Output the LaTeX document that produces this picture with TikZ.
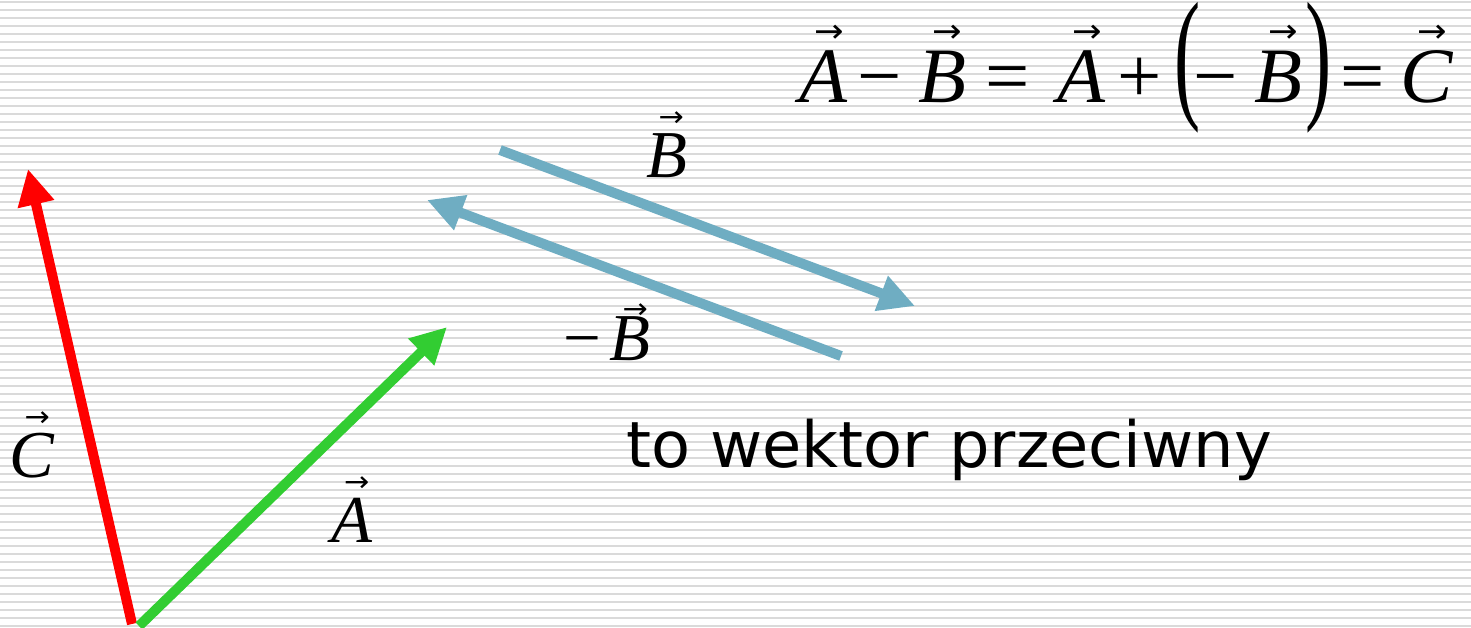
\documentclass[tikz,border=0pt]{standalone}
\usepackage{fontspec}
\setmainfont{Liberation Serif}
\newfontfamily\plfont{DejaVu Sans}
\usepackage{graphicx}
\usetikzlibrary{arrows.meta}
\definecolor{VecA}{RGB}{50,205,50}
\definecolor{VecB}{RGB}{111,173,194}
\definecolor{VecC}{RGB}{255,0,0}
\definecolor{Stripe}{RGB}{218,218,218}
% letter with a small arrow above it
\newcommand{\vecl}[2][0.76em]{\ooalign{\textit{#2}\cr
  \hfil\kern0.14em\raisebox{#1}{\scalebox{0.45}[0.42]{\plfont →}}\hfil\cr}}
\tikzset{
  vec/.style={line width=10pt,-{Triangle[length=36pt,width=35pt]}},
  eqn/.style={font=\fontsize{78.5}{80}\selectfont,inner sep=0pt,anchor=base west},
  lbl/.style={font=\fontsize{67}{70}\selectfont,inner sep=0pt,anchor=base west},
  note/.style={font=\plfont\fontsize{63.8}{70}\selectfont,inner sep=0pt,anchor=base west},
}
\begin{document}
\begin{tikzpicture}[x=1pt,y=-1pt]
  % ruled background
  \useasboundingbox (0,0) rectangle (1471,627);
  \fill[white] (0,0) rectangle (1471,627);
  \foreach \k in {0,...,78}
    \fill[Stripe] (0,8*\k+1) rectangle (1471,8*\k+2.6);

  % vector end points
  \coordinate (Cbot) at (132,624);
  \coordinate (Ctip) at (28,169);
  \coordinate (Abot) at (139,626);
  \coordinate (Atip) at (447,327);
  \coordinate (Bstart) at (500,150);
  \coordinate (Btip) at (915,306);
  \coordinate (mBstart) at (841,356);
  \coordinate (mBtip) at (427,200);

  \draw[vec,VecC] (Cbot) -- (Ctip);
  \draw[vec,VecA] (Abot) -- (Atip);
  \draw[vec,VecB] (Bstart) -- (Btip);
  \draw[vec,VecB] (mBstart) -- (mBtip);

  % labels
  \node[lbl] (lblC) at (9.6,477) {\vecl{C}};
  \node[lbl] (lblA) at (331.4,542) {\vecl{A}};
  \node[lbl] (lblB) at (646,177) {\vecl{B}};
  \node[lbl] (lblmB) at (563,360) {−\kern9pt\vecl[0.62em]{B}};

  \node[eqn] (eq) at (799,102) {\vecl{A}\kern9.6pt−\kern17pt\vecl{B}\kern19.7pt=\kern27pt\vecl{A}\kern11.6pt+\kern13pt\scalebox{1}[1.84]{(}\kern-6.5pt−\kern16pt\vecl{B}\kern3.7pt\scalebox{1}[1.84]{)}\kern8.9pt=\kern15pt\vecl{C}};

  \node[note] (txt) at (626,467) {to wektor przeciwny};
\end{tikzpicture}
\end{document}
